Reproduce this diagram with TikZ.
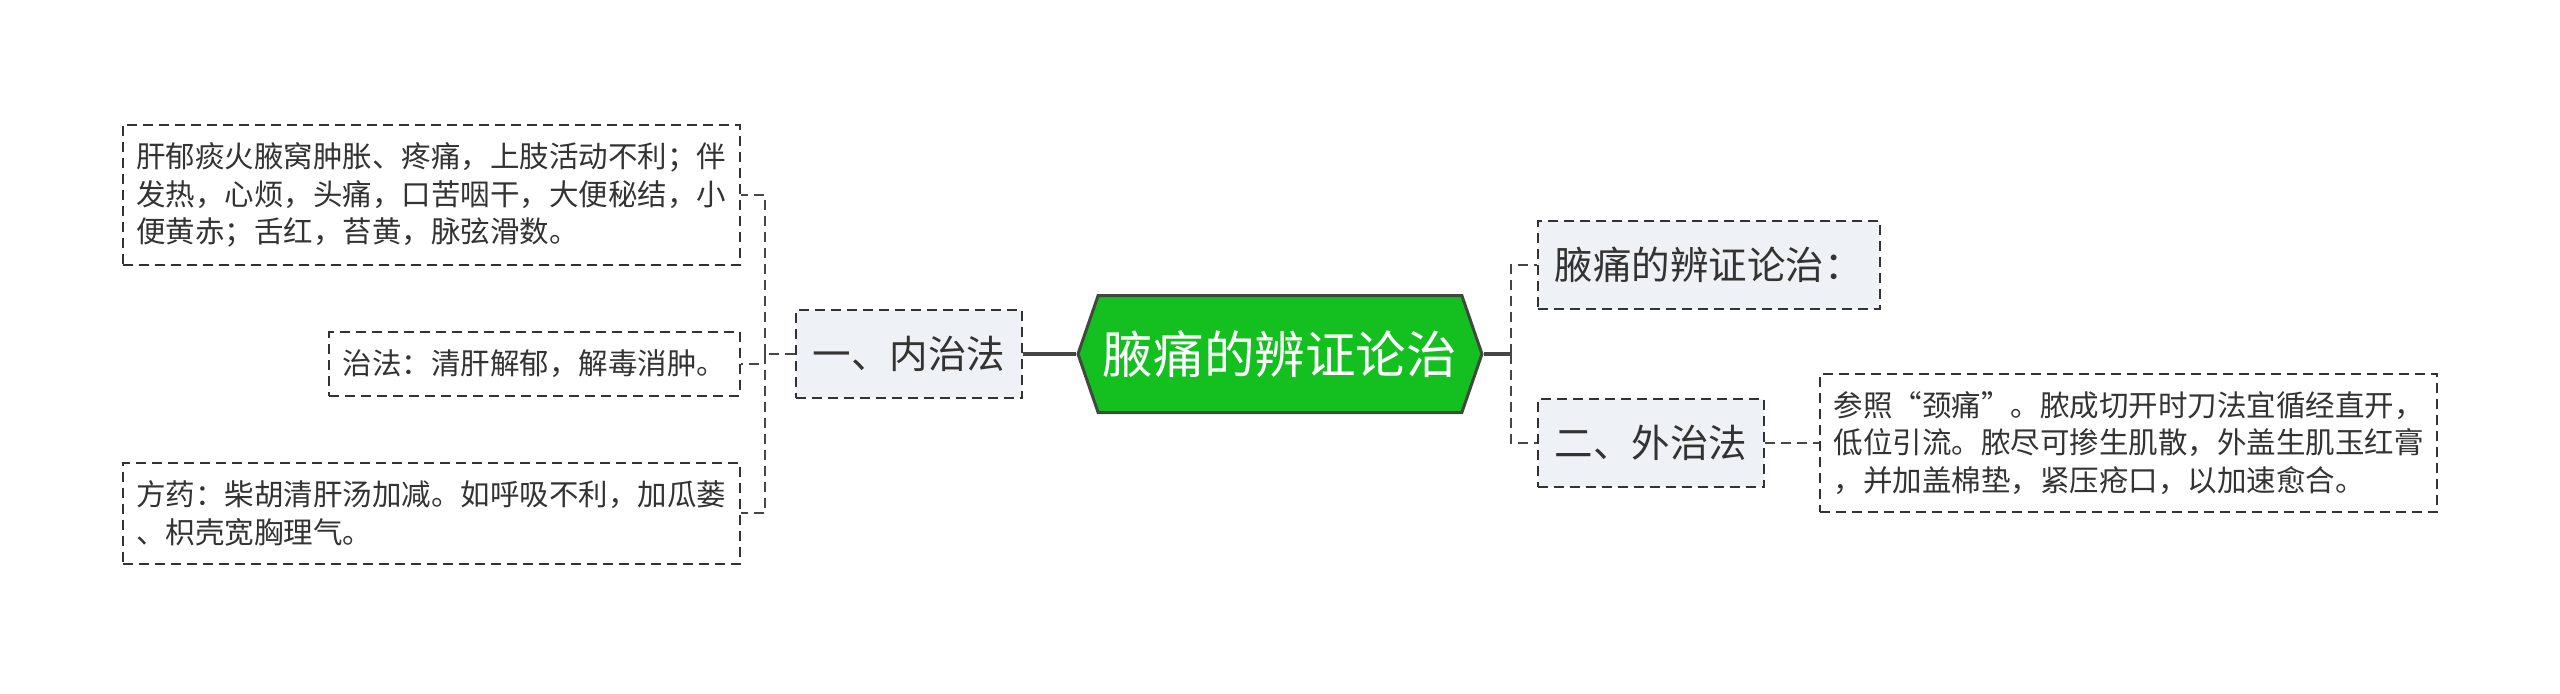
\documentclass[tikz,border=0pt]{standalone}
\usepackage{fontspec}
\setmainfont{Noto Sans CJK SC}
\usetikzlibrary{positioning,shapes.symbols}
\definecolor{rootgreen}{RGB}{20,192,32}
\definecolor{rootline}{RGB}{64,72,64}
\definecolor{lblue}{RGB}{238,241,245}
\definecolor{dark}{RGB}{51,51,51}
\definecolor{linkgray}{RGB}{70,70,70}

\begin{document}
\begin{tikzpicture}[
      every node/.style={font=\fontsize{14.75pt}{18.75pt}\selectfont, text=dark},
      root/.style={shape=signal, signal to=west and east, signal pointer angle=142,
                   draw=rootline, line width=1.5pt, fill=rootgreen, text=white,
                   font=\fontsize{25.3pt}{30pt}\selectfont,
                   minimum width=202pt, minimum height=58.5pt, inner xsep=2pt},
      dashbox/.style={draw=dark, line width=1pt, dash pattern=on 5pt off 3pt},
      topic/.style={dashbox, fill=lblue, font=\fontsize{19.25pt}{24pt}\selectfont,
                    minimum height=44pt, inner xsep=8.5pt},
      leaf/.style={dashbox, fill=white, align=left, inner xsep=6.75pt, inner ysep=8.9pt},
      trunk/.style={draw=linkgray, line width=2pt},
      twig/.style={draw=linkgray, line width=1pt, dash pattern=on 5pt off 3pt}
    ]
    \useasboundingbox (-640pt,-169.5pt) rectangle (640pt,177pt);

    \node[root] (root) {腋痛的辨证论治};

    % left side
    \node[topic, left=26.5pt of root] (inner) {一、内治法};
    \node[leaf, left=27pt of inner, yshift=-5pt] (zhifa) {治法：清肝解郁，解毒消肿。};
    \node[leaf, above=32.5pt of zhifa.north east, anchor=south east]
      (bing) {肝郁痰火腋窝肿胀、疼痛，上肢活动不利；伴\\发热，心烦，头痛，口苦咽干，大便秘结，小\\便黄赤；舌红，苔黄，脉弦滑数。};
    \node[leaf, below=32.5pt of zhifa.south east, anchor=north east]
      (fangyao) {方药：柴胡清肝汤加减。如呼吸不利，加瓜蒌\\、枳壳宽胸理气。};

    % right side
    \node[topic, above right=22pt and 26.5pt of root.east] (title) {腋痛的辨证论治：};
    \node[topic, below right=22pt and 26.5pt of root.east] (outer) {二、外治法};
    \node[leaf, right=27pt of outer]
      (waizhi) {参照“颈痛”。脓成切开时刀法宜循经直开，\\低位引流。脓尽可掺生肌散，外盖生肌玉红膏\\，并加盖棉垫，紧压疮口，以加速愈合。};

    \coordinate[left=15pt of inner.west] (lj);
    \coordinate[right=13.5pt of root.east] (rj);

    \draw[trunk] (root.west) -- (inner.east);
    \draw[trunk] (root.east) -- (rj);
    \draw[twig]  (inner.west) -- (lj);
    \draw[twig]  (lj) |- (bing.east);
    \draw[twig]  (lj) |- (zhifa.east);
    \draw[twig]  (lj) |- (fangyao.east);
    \draw[twig]  (rj) |- (title.west);
    \draw[twig]  (rj) |- (outer.west);
    \draw[twig]  (outer) -- (waizhi);
  \end{tikzpicture}
\end{document}
